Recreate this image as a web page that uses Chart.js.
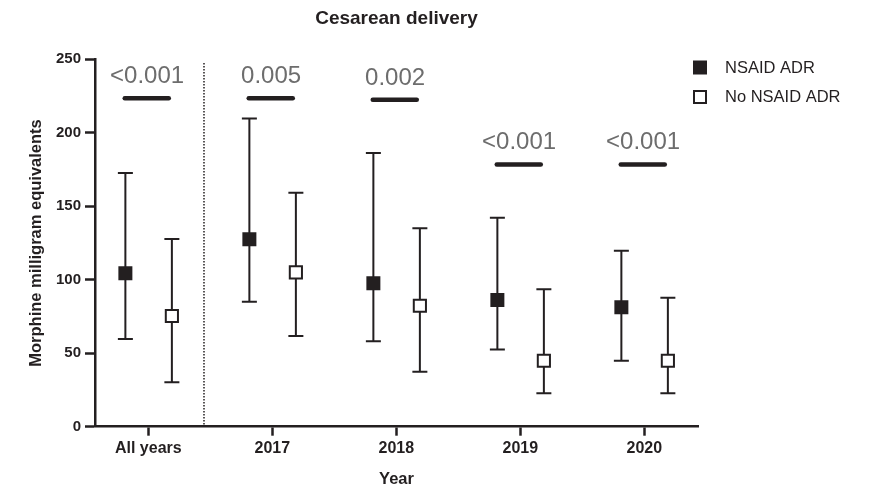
<!DOCTYPE html>
<html>
<head>
<meta charset="utf-8">
<script src="https://cdn.jsdelivr.net/npm/chart.js@4.4.1/dist/chart.umd.min.js"></script>
<style>
  html, body { margin: 0; padding: 0; background: #fff; }
  #wrap { width: 869px; height: 487px; }
</style>
</head>
<body>
<div id="wrap"><canvas id="chart" width="869" height="487"></canvas></div>
<script>
const categories = ["All years", "2017", "2018", "2019", "2020"];

// median and range
const nsaidMedian = [104.4, 127.5, 97.6, 86.2, 81.2];
const nsaidLow = [59.7, 85.1, 58.1, 52.6, 44.9];
const nsaidHigh = [172.6, 209.8, 186.2, 142.2, 119.8];

const noNsaidMedian = [75.3, 105.0, 82.3, 44.9, 44.9];
const noNsaidLow = [30.2, 61.7, 37.4, 22.7, 22.7];
const noNsaidHigh = [127.7, 159.2, 135.0, 93.5, 87.8];

const pValues = ["<0.001", "0.005", "0.002", "<0.001", "<0.001"];
const pBarLevel = [223.5, 223.5, 222.5, 178.5, 178.5];

const yTicks = [0, 50, 100, 150, 200, 250];

const INK = "#231f20";
const FONT = "'Liberation Sans', Arial, Helvetica, sans-serif";
const OFF_L = -0.185, OFF_R = 0.19;

const nsaidPoints = nsaidMedian.map((v, i) => ({ x: i + OFF_L, y: v }));
const noNsaidPoints = noNsaidMedian.map((v, i) => ({ x: i + OFF_R, y: v }));

const overlay = {
  id: "overlay",
  beforeDatasetsDraw(chart) {
    const ctx = chart.ctx;
    const xs = chart.scales.x, ys = chart.scales.y;
    ctx.save();
    // dotted divider between "All years" and the single years
    ctx.strokeStyle = INK;
    ctx.lineWidth = 1.5;
    ctx.setLineDash([1.5, 1.5]);
    const dx = xs.getPixelForValue(0.449);
    ctx.beginPath();
    ctx.moveTo(dx, ys.getPixelForValue(247.5));
    ctx.lineTo(dx, ys.getPixelForValue(0));
    ctx.stroke();
    ctx.setLineDash([]);

    // error bars
    ctx.lineWidth = 2;
    const whisker = (x, lo, hi) => {
      const px = xs.getPixelForValue(x);
      const t = ys.getPixelForValue(hi), b = ys.getPixelForValue(lo);
      ctx.beginPath();
      ctx.moveTo(px, t); ctx.lineTo(px, b);
      ctx.moveTo(px - 7.5, t); ctx.lineTo(px + 7.5, t);
      ctx.moveTo(px - 7.5, b); ctx.lineTo(px + 7.5, b);
      ctx.stroke();
    };
    categories.forEach((c, i) => {
      whisker(i + OFF_L, nsaidLow[i], nsaidHigh[i]);
      whisker(i + OFF_R, noNsaidLow[i], noNsaidHigh[i]);
    });
    ctx.restore();
  },
  afterDraw(chart) {
    const ctx = chart.ctx;
    const xs = chart.scales.x, ys = chart.scales.y;
    const area = chart.chartArea;
    ctx.save();

    // p-value bars and labels
    pValues.forEach((p, i) => {
      const y = ys.getPixelForValue(pBarLevel[i]);
      const x1 = xs.getPixelForValue(i - 0.19), x2 = xs.getPixelForValue(i + 0.165);
      ctx.strokeStyle = INK;
      ctx.lineWidth = 4.5;
      ctx.lineCap = "round";
      ctx.beginPath();
      ctx.moveTo(x1, y); ctx.lineTo(x2, y);
      ctx.stroke();
      ctx.fillStyle = "#6d6d6d";
      ctx.font = "24px " + FONT;
      ctx.textAlign = "center";
      ctx.textBaseline = "alphabetic";
      ctx.fillText(p, xs.getPixelForValue(i - 0.01), y - 15);
    });

    // title
    ctx.fillStyle = INK;
    ctx.font = "bold 19px " + FONT;
    ctx.textAlign = "center";
    ctx.textBaseline = "middle";
    ctx.fillText("Cesarean delivery", (area.left + area.right) / 2, 19);

    // axis titles
    ctx.font = "bold 16.5px " + FONT;
    ctx.fillText("Year", (area.left + area.right) / 2, 479);
    ctx.save();
    ctx.translate(36, (area.top + area.bottom) / 2);
    ctx.rotate(-Math.PI / 2);
    ctx.fillText("Morphine milligram equivalents", 0, 0);
    ctx.restore();

    // legend
    ctx.font = "16.5px " + FONT;
    ctx.textAlign = "left";
    ctx.fillStyle = INK;
    ctx.fillRect(693, 60.5, 14, 14);
    ctx.fillText("NSAID ADR", 725, 68);
    ctx.strokeStyle = INK;
    ctx.lineWidth = 2;
    ctx.strokeRect(694, 91, 12, 12);
    ctx.fillText("No NSAID ADR", 725, 97.5);
    ctx.restore();
  }
};

new Chart(document.getElementById("chart"), {
  type: "scatter",
  data: {
    datasets: [
      {
        label: "NSAID ADR",
        data: nsaidPoints,
        pointStyle: "rect",
        pointRadius: 9.9,
        pointHoverRadius: 9.9,
        backgroundColor: INK,
        borderColor: INK,
        borderWidth: 0
      },
      {
        label: "No NSAID ADR",
        data: noNsaidPoints,
        pointStyle: "rect",
        pointRadius: 8.6,
        pointHoverRadius: 8.6,
        backgroundColor: "#ffffff",
        borderColor: INK,
        borderWidth: 2
      }
    ]
  },
  options: {
    responsive: false,
    animation: false,
    layout: { padding: { left: 0, right: 171, top: 59.3, bottom: 0 } },
    plugins: {
      legend: { display: false },
      tooltip: { enabled: false },
      title: { display: false }
    },
    scales: {
      x: {
        type: "linear",
        min: -0.43,
        max: 4.433,
        afterBuildTicks: s => { s.ticks = categories.map((c, i) => ({ value: i })); },
        afterFit: s => { s.height = 60.3; },
        ticks: {
          callback: v => categories[v],
          color: INK,
          font: { family: FONT, size: 16, weight: "bold" },
          padding: 3,
          maxRotation: 0
        },
        grid: { drawOnChartArea: false, drawTicks: true, tickLength: 9, tickWidth: 2.5, tickColor: INK },
        border: { display: true, color: INK, width: 2.5 }
      },
      y: {
        min: 0,
        max: 250,
        afterBuildTicks: s => { s.ticks = yTicks.map(v => ({ value: v })); },
        afterFit: s => { s.width = 95; },
        ticks: {
          color: INK,
          font: { family: FONT, size: 15, weight: "bold" },
          padding: 4
        },
        grid: { drawOnChartArea: false, drawTicks: true, tickLength: 10, tickWidth: 2.5, tickColor: INK },
        border: { display: true, color: INK, width: 2.5 }
      }
    }
  },
  plugins: [overlay]
});
</script>
</body>
</html>
